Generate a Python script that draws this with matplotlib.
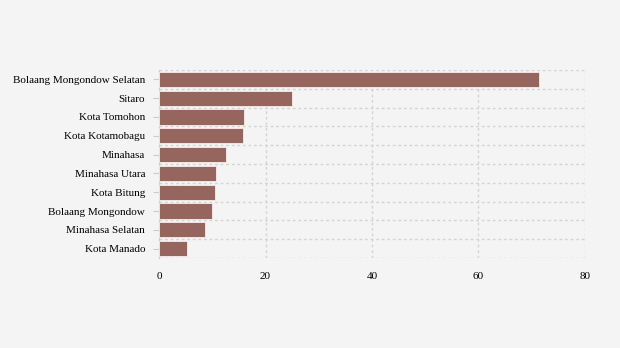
import numpy as np
import matplotlib.pyplot as plt
import matplotlib.transforms as mtransforms

regions = ["Bolaang Mongondow Selatan", "Sitaro", "Kota Tomohon", "Kota Kotamobagu",
           "Minahasa", "Minahasa Utara", "Kota Bitung", "Bolaang Mongondow",
           "Minahasa Selatan", "Kota Manado"]
values = [71.4, 25.0, 16.0, 15.8, 12.6, 10.7, 10.5, 10.0, 8.6, 5.3]
xticks = [0, 20, 40, 60, 80]

bg = "#f4f4f4"
plt.rcParams['font.family'] = ['Liberation Serif', 'DejaVu Serif']

fig = plt.figure(figsize=(6.2, 3.48), dpi=100, facecolor=bg)
ax = fig.add_axes([0.2565, 0.2586, 0.687, 0.5403], facecolor=bg)

y = np.arange(len(regions))
ax.barh(y, values, height=0.8, color="#96665e", edgecolor="#f8eeee", linewidth=0.6, zorder=3)

ax.set_xlim(0, 80)
ax.set_ylim(len(regions) - 0.5, -0.5)
ax.set_xticks(xticks)
ax.set_xticklabels([str(t) for t in xticks])
ax.set_yticks(y)
ax.set_yticklabels(regions, va="center_baseline")
ax.yaxis.set_minor_locator(plt.FixedLocator(np.arange(-0.5, len(regions), 1.0)))

# nudge the category labels down a little
shift = mtransforms.ScaledTranslation(0, -2 / 100, fig.dpi_scale_trans)
for lab in ax.get_yticklabels():
    lab.set_transform(lab.get_transform() + shift)

# dotted grid: vertical at the x ticks, horizontal between the bars
ax.grid(axis="x", which="major", color="#d4d4d4", linestyle=(0, (2, 2)), linewidth=1, zorder=0)
ax.grid(axis="y", which="minor", color="#d4d4d4", linestyle=(0, (2, 2)), linewidth=1, zorder=0)
ax.tick_params(axis="y", which="minor", length=0)
ax.tick_params(axis="y", which="major", length=4, color="#cccccc", labelsize=8, pad=6)
ax.tick_params(axis="x", length=0, labelsize=8, pad=10)

for side in ["top", "right", "bottom"]:
    ax.spines[side].set_visible(False)
ax.spines["left"].set_color("#cccccc")
ax.spines["left"].set_linestyle((0, (2, 2)))

fig.savefig("out.png", dpi=100, facecolor=bg)
